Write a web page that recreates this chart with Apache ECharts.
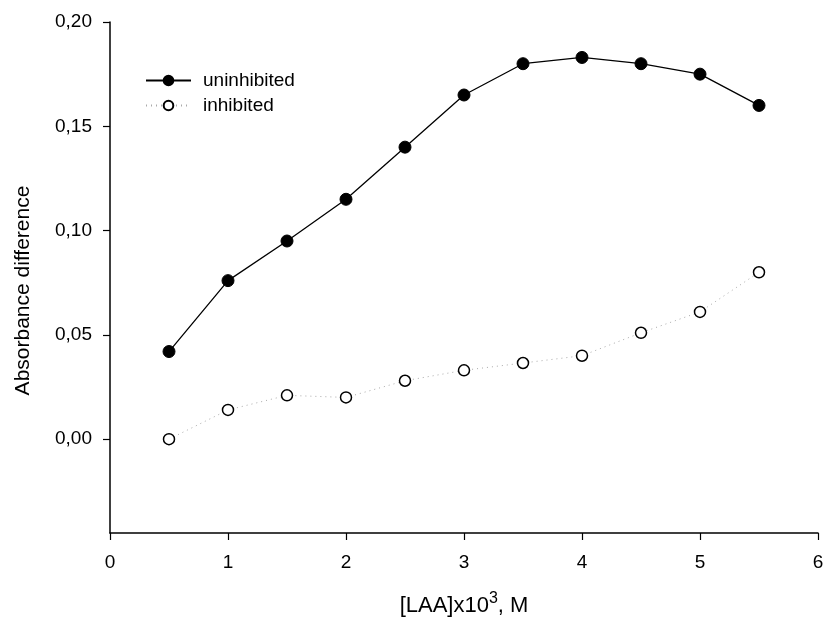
<!DOCTYPE html>
<html>
<head>
<meta charset="utf-8">
<script src="https://cdn.jsdelivr.net/npm/echarts@6/dist/echarts.min.js"></script>
<style>
  html, body { margin: 0; padding: 0; background: #fff; }
  #chart { width: 825px; height: 620px; }
</style>
</head>
<body>
<div id="chart"></div>
<script>
// data
const xValues = [0.5, 1, 1.5, 2, 2.5, 3, 3.5, 4, 4.5, 5, 5.5];
const uninhibited = [0.042, 0.076, 0.095, 0.115, 0.140, 0.165, 0.180, 0.183, 0.180, 0.175, 0.160];
const inhibited = [0.000, 0.014, 0.021, 0.020, 0.028, 0.033, 0.0365, 0.040, 0.051, 0.061, 0.080];
const yTicks = [0, 0.05, 0.1, 0.15, 0.2];

const font = '"Liberation Sans", Arial, sans-serif';
const pair = (ys) => xValues.map((x, i) => [x, ys[i]]);

const chart = echarts.init(document.getElementById('chart'));

chart.setOption({
  animation: false,
  backgroundColor: '#fff',
  textStyle: { fontFamily: font },
  grid: { left: 110, right: 7, top: 22, bottom: 87, containLabel: false, outerBoundsMode: 'none' },
  legend: {
    orient: 'vertical',
    left: 140,
    top: 66,
    itemWidth: 45,
    itemHeight: 12,
    itemGap: 6,
    textStyle: { fontFamily: font, fontSize: 19, color: '#000', padding: [0, 0, 0, 7] },
    data: ['uninhibited', 'inhibited']
  },
  xAxis: {
    type: 'value',
    min: 0,
    max: 6,
    interval: 1,
    name: '{a|[LAA]x10}{s|3}{a|, M}',
    nameLocation: 'middle',
    nameGap: 58,
    nameTextStyle: {
      rich: {
        a: { fontFamily: font, fontSize: 22, color: '#000' },
        s: { fontFamily: font, fontSize: 16, color: '#000', padding: [0, 0, 14, 0] }
      }
    },
    axisLine: { onZero: false, lineStyle: { color: '#000', width: 1.5 } },
    axisTick: { length: 7, lineStyle: { color: '#000', width: 1.2 } },
    axisLabel: { fontFamily: font, fontSize: 19, color: '#000', margin: 20 },
    splitLine: { show: false }
  },
  yAxis: {
    type: 'value',
    min: -0.045,
    max: 0.2,
    name: 'Absorbance difference',
    nameLocation: 'middle',
    nameRotate: 90,
    nameGap: 76,
    nameTextStyle: { fontFamily: font, fontSize: 21, color: '#000', padding: [0, 26, 0, 0] },
    axisLine: { lineStyle: { color: '#000', width: 1.5 } },
    axisTick: { length: 7, lineStyle: { color: '#000', width: 1.2 }, customValues: yTicks },
    axisLabel: {
      fontFamily: font,
      fontSize: 19,
      color: '#000',
      margin: 18,
      customValues: yTicks,
      formatter: (v) => v.toFixed(2).replace('.', ',')
    },
    splitLine: { show: false }
  },
  series: [
    {
      name: 'uninhibited',
      type: 'line',
      data: pair(uninhibited),
      symbol: 'circle',
      symbolSize: 12,
      lineStyle: { color: '#000', width: 1.3 },
      itemStyle: { color: '#000', borderColor: '#000', borderWidth: 1 }
    },
    {
      name: 'inhibited',
      type: 'line',
      data: pair(inhibited),
      symbol: 'circle',
      symbolSize: 11,
      lineStyle: { color: '#aaa', width: 1, type: [1, 4] },
      itemStyle: { color: '#fff', borderColor: '#000', borderWidth: 1.5 }
    }
  ]
});
</script>
</body>
</html>
